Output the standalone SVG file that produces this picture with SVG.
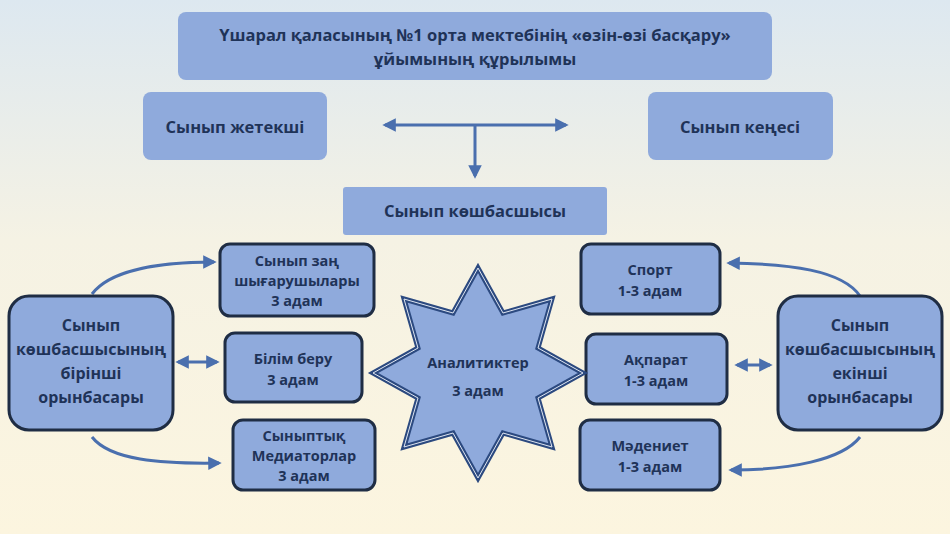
<svg xmlns="http://www.w3.org/2000/svg" width="950" height="534" viewBox="0 0 950 534">
<defs>
<linearGradient id="bg" x1="0" y1="0" x2="0" y2="1"><stop offset="0" stop-color="#dde8f0"/><stop offset="0.45" stop-color="#f5f2e4"/><stop offset="1" stop-color="#fcf5df"/></linearGradient>
<marker id="ah" viewBox="0 0 10 10" refX="8" refY="5" markerWidth="4.5" markerHeight="4.5" orient="auto-start-reverse"><path d="M0,0L10,5L0,10z" fill="#4a6fae"/></marker>
<style>
.t{font-family:"Open Sans","Liberation Sans",sans-serif;font-weight:bold;fill:#1f3358;text-anchor:middle}
.p{fill:#8faadc}
.b{fill:#8faadc;stroke:#1f2d44;stroke-width:3}
.c{fill:none;stroke:#4a6fae;stroke-width:3;marker-end:url(#ah)}
.d{fill:none;stroke:#4a6fae;stroke-width:3;marker-end:url(#ah);marker-start:url(#ah)}
</style>
</defs>
<rect width="950" height="534" fill="url(#bg)"/>
<g id="connectors">
<path class="d" d="M385,125H566"/>
<path class="c" d="M475,125V176"/>
<path class="c" d="M92,294C110,270 160,262 214,262"/>
<path class="d" d="M178,362H217"/>
<path class="c" d="M92,437C110,460 160,464 219,463"/>
<path class="c" d="M860,296C842,270 790,264 729,263"/>
<path class="d" d="M737,365H770"/>
<path class="c" d="M860,437C842,460 790,470 731,470"/>
</g>
<g id="title"><rect class="p" x="178" y="12" width="594" height="68" rx="8"/>
<text class="t" x="475" y="41" font-size="16.5">Үшарал қаласының №1 орта мектебінің «өзін-өзі басқару»</text>
<text class="t" x="475" y="65" font-size="16.5">ұйымының құрылымы</text></g>
<g id="n-zhetekshi"><rect class="p" x="143" y="92" width="184" height="68" rx="8"/><text class="t" x="235" y="133" font-size="16.5">Сынып жетекші</text></g>
<g id="n-kenes"><rect class="p" x="648" y="92" width="185" height="68" rx="8"/><text class="t" x="740" y="133" font-size="16.5">Сынып кеңесі</text></g>
<g id="n-koshbasshy"><rect class="p" x="343" y="187" width="264" height="48" rx="3"/><text class="t" x="475" y="217" font-size="16.5">Сынып көшбасшысы</text></g>
<g id="n-left"><rect class="b" x="9" y="296" width="164" height="134" rx="20"/>
<text class="t" font-size="16"><tspan x="91" y="331">Сынып</tspan><tspan x="91" y="355">көшбасшысының</tspan><tspan x="91" y="379">бірінші</tspan><tspan x="91" y="403">орынбасары</tspan></text></g>
<g id="n-right"><rect class="b" x="778" y="296" width="164" height="134" rx="20"/>
<text class="t" font-size="16"><tspan x="860" y="331">Сынып</tspan><tspan x="860" y="355">көшбасшысының</tspan><tspan x="860" y="379">екінші</tspan><tspan x="860" y="403">орынбасары</tspan></text></g>
<g id="n-zan"><rect class="b" x="220" y="244" width="154" height="72" rx="10"/>
<text class="t" font-size="14.5"><tspan x="297" y="266">Сынып заң</tspan><tspan x="297" y="286">шығарушылары</tspan><tspan x="297" y="306">3 адам</tspan></text></g>
<g id="n-bilim"><rect class="b" x="225" y="333" width="137" height="69" rx="10"/>
<text class="t" font-size="14.5"><tspan x="293" y="364">Білім беру</tspan><tspan x="293" y="385">3 адам</tspan></text></g>
<g id="n-mediator"><rect class="b" x="233" y="420" width="142" height="70" rx="10"/>
<text class="t" font-size="14.5"><tspan x="304" y="441">Сыныптық</tspan><tspan x="304" y="461">Медиаторлар</tspan><tspan x="304" y="481">3 адам</tspan></text></g>
<g id="n-sport"><rect class="b" x="581" y="244" width="139" height="70" rx="10"/>
<text class="t" font-size="14.5"><tspan x="650" y="275">Спорт</tspan><tspan x="650" y="296">1-3 адам</tspan></text></g>
<g id="n-akparat"><rect class="b" x="586" y="334" width="141" height="70" rx="10"/>
<text class="t" font-size="14.5"><tspan x="656" y="365">Ақпарат</tspan><tspan x="656" y="386">1-3 адам</tspan></text></g>
<g id="n-madeniet"><rect class="b" x="580" y="420" width="140" height="70" rx="10"/>
<text class="t" font-size="14.5"><tspan x="650" y="451">Мәдениет</tspan><tspan x="650" y="472">1-3 адам</tspan></text></g>
<g id="n-analitik">
<polygon points="478,268 503,313 552,299 538,348 583,373 538,398 552,447 503,433 478,478 453,433 404,447 418,398 373,373 418,348 404,299 453,313" fill="#8faadc" stroke="#2c4a80" stroke-width="5" stroke-linejoin="miter"/>
<polygon points="478,268 503,313 552,299 538,348 583,373 538,398 552,447 503,433 478,478 453,433 404,447 418,398 373,373 418,348 404,299 453,313" fill="none" stroke="#dfe6f2" stroke-width="1"/>
<text class="t" font-size="14.5"><tspan x="478" y="368">Аналитиктер</tspan><tspan x="478" y="396">3 адам</tspan></text></g>
</svg>
